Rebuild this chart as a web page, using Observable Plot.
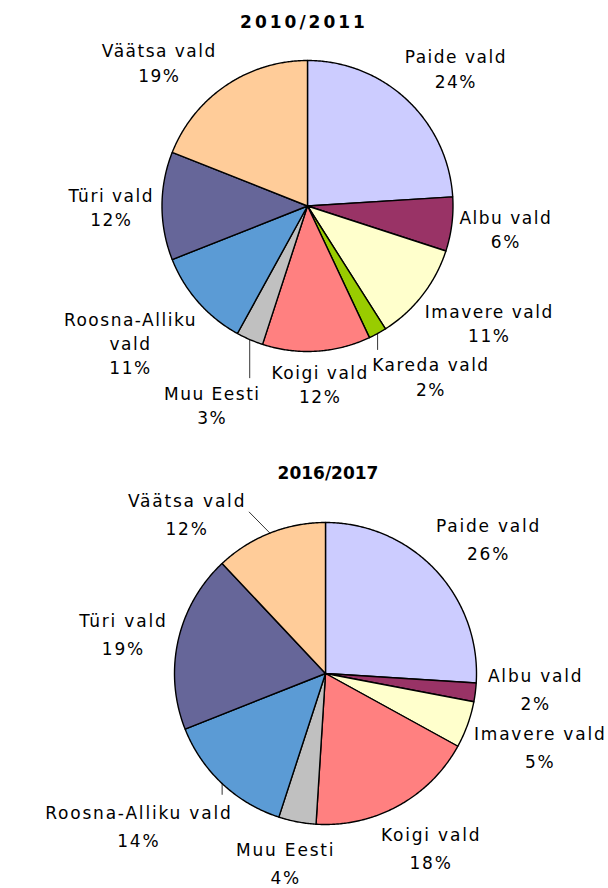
<!DOCTYPE html>
<html><head><meta charset="utf-8">
<script src="https://cdn.jsdelivr.net/npm/d3@7"></script>
<script src="https://cdn.jsdelivr.net/npm/@observablehq/plot@0.6"></script>
<style>
body{margin:0;background:#fff;}
#chart{width:608px;height:888px;background:#fff;font-family:"DejaVu Sans",Verdana,sans-serif;}
.title{font-weight:bold;font-size:17px;line-height:20px;color:#000;box-sizing:border-box;width:608px;text-align:center;}
svg{display:block;}
</style></head><body><div id="chart"></div>
<script>
// ---- data ----
const municipalities = ["Paide vald","Albu vald","Imavere vald","Kareda vald","Koigi vald","Muu Eesti","Roosna-Alliku vald","Türi vald","Väätsa vald"];
const sliceColors = ["#CCCCFF","#993366","#FFFFCC","#99CC00","#FF8080","#C0C0C0","#5B9BD5","#666699","#FFCC99"];
const share2010 = [24,6,11,2,12,3,11,12,19];
const share2016 = [26,2,5,0,18,4,14,19,12];
const titles = ["2010/2011","2016/2017"];

// ---- layout ----
const W = 608;
const charts = [
  {title: titles[0], values: share2010, titleStyle:"height:36px;padding-top:12px;letter-spacing:3px;padding-left:0px;",
   height: 400, cx: 307, cy: 169.5, r: 145.5, ls: 1.5, lh: 1.43, wrap: 150, gap: 8},
  {title: titles[1], values: share2016, titleStyle:"height:47px;padding-top:27px;letter-spacing:0px;padding-left:48px;",
   height: 405, cx: 325, cy: 190, r: 151, ls: 1.8, lh: 1.65, wrap: 230, gap: 12}
];
const FS = 17;
const ctx = document.createElement("canvas").getContext("2d");
ctx.font = FS + "px 'DejaVu Sans'";
const textW = (s, ls) => ctx.measureText(s).width + ls * s.length;

function wrapName(name, maxW, ls) {
  const words = name.split(" ");
  const lines = [];
  let cur = "";
  for (const w of words) {
    const t = cur ? cur + " " + w : w;
    if (cur && textW(t, ls) > maxW) { lines.push(cur); cur = w; } else cur = t;
  }
  if (cur) lines.push(cur);
  return lines;
}

function build(cfg) {
  const data = municipalities.map((name, i) => ({name, value: cfg.values[i], color: sliceColors[i]})).filter(d => d.value > 0);
  const arcs = d3.pie().sort(null).value(d => d.value)(data);
  const {cx, cy, r} = cfg;
  // slice polygons
  const pts = [];
  for (const a of arcs) {
    const n = Math.max(2, Math.ceil((a.endAngle - a.startAngle) / (Math.PI / 360)));
    const key = a.data.name, color = a.data.color;
    pts.push({key, color, x: cx, y: cy});
    for (let k = 0; k <= n; k++) {
      const t = a.startAngle + (a.endAngle - a.startAngle) * k / n;
      pts.push({key, color, x: cx + r * Math.sin(t), y: cy - r * Math.cos(t)});
    }
    pts.push({key, color, x: cx, y: cy});
  }
  // labels
  const placed = [];
  const labels = [];
  const leaders = [];
  const order = arcs.slice().sort((a, b) => b.value - a.value);
  const clearOfPie = box => {
    const nx = Math.max(box.x0, Math.min(box.x1, cx)), ny = Math.max(box.y0, Math.min(box.y1, cy));
    return Math.hypot(nx - cx, ny - cy) > r + 3;
  };
  for (const a of order) {
    const lines = wrapName(a.data.name, cfg.wrap, cfg.ls).concat([a.data.value + "%"]);
    const w = d3.max(lines, l => textW(l, cfg.ls));
    const h = lines.length * cfg.lh * FS;
    const mid = (a.startAngle + a.endAngle) / 2;
    let best = null;
    for (let dd = -30; dd <= 30; dd += 1) {
      for (let g = cfg.gap; g <= cfg.gap + 90; g += 2) {
        const th = mid + dd * Math.PI / 180;
        const s = Math.sin(th), c = -Math.cos(th);
        const ax = cx + (r + g) * s, ay = cy + (r + g) * c;
        const bx = ax + w / 2 * s, by = ay + h / 2 * c;
        const box = {x0: bx - w / 2, x1: bx + w / 2, y0: by - h / 2, y1: by + h / 2, bx, by};
        if (box.x0 < 1 || box.x1 > W - 1 || box.y0 < 0 || box.y1 > cfg.height + 2) continue;
        if (!clearOfPie(box)) continue;
        if (placed.some(p => !(box.x0 > p.x1 + 3 || box.x1 < p.x0 - 3 || box.y0 > p.y1 + 1 || box.y1 < p.y0 - 1))) continue;
        const cost = (g - cfg.gap) + 2.5 * Math.abs(dd);
        if (!best || cost < best.cost) best = {cost, box, g, dd};
        break;
      }
    }
    if (!best) {
      const s = Math.sin(mid), c = -Math.cos(mid);
      const bx = cx + (r + cfg.gap) * s + w / 2 * s, by = cy + (r + cfg.gap) * c + h / 2 * c;
      best = {cost: 0, box: {x0: bx - w / 2, x1: bx + w / 2, y0: by - h / 2, y1: by + h / 2, bx, by}};
    }
    const box = best.box;
    placed.push(box);
    labels.push({x: box.bx, y: box.by, text: lines.join("\n")});
    const px = cx + r * Math.sin(mid), py = cy - r * Math.cos(mid);
    const nearX = Math.max(box.x0, Math.min(box.x1, px)), nearY = Math.max(box.y0, Math.min(box.y1, py));
    const dist = Math.hypot(nearX - px, nearY - py);
    if (best.cost > 8 && dist > 10) {
      const qx = Math.max(box.x0 + 4, Math.min(box.x1 - 4, px));
      const ex = qx < box.bx ? box.x0 - 3 : box.x1 + 3;
      const hor = Math.abs(py - box.by) > h / 2;
      const endX = hor ? qx : ex;
      const endY = hor ? (py < box.by ? box.y0 - 2 : box.y1 + 2) : box.by;
      leaders.push({key: a.data.name, x: px, y: py});
      leaders.push({key: a.data.name, x: endX, y: endY});
    }
  }

  return Plot.plot({
    width: W, height: cfg.height,
    margin: 0,
    x: {domain: [0, W], range: [0, W], axis: null},
    y: {domain: [0, cfg.height], range: [0, cfg.height], axis: null},
    color: {type: "identity"},
    style: {fontFamily: "'DejaVu Sans', Verdana, sans-serif", fontSize: FS + "px", letterSpacing: cfg.ls + "px", background: "white", color: "black", overflow: "visible"},
    marks: [
      Plot.line(pts, {x: "x", y: "y", z: "key", fill: "color", stroke: "black", strokeWidth: 1.4, strokeLinejoin: "round", curve: "linear"}),
      Plot.line(leaders, {x: "x", y: "y", z: "key", stroke: "black", strokeWidth: 0.8}),
      Plot.text(labels, {x: "x", y: "y", text: "text", textAnchor: "middle", lineAnchor: "middle", lineHeight: cfg.lh, fontSize: FS, fill: "black"})
    ]
  });
}

const root = document.getElementById("chart");
for (const cfg of charts) {
  const t = document.createElement("div");
  t.className = "title";
  t.setAttribute("style", cfg.titleStyle);
  t.textContent = cfg.title;
  root.appendChild(t);
  root.appendChild(build(cfg));
}
</script>
</body></html>
